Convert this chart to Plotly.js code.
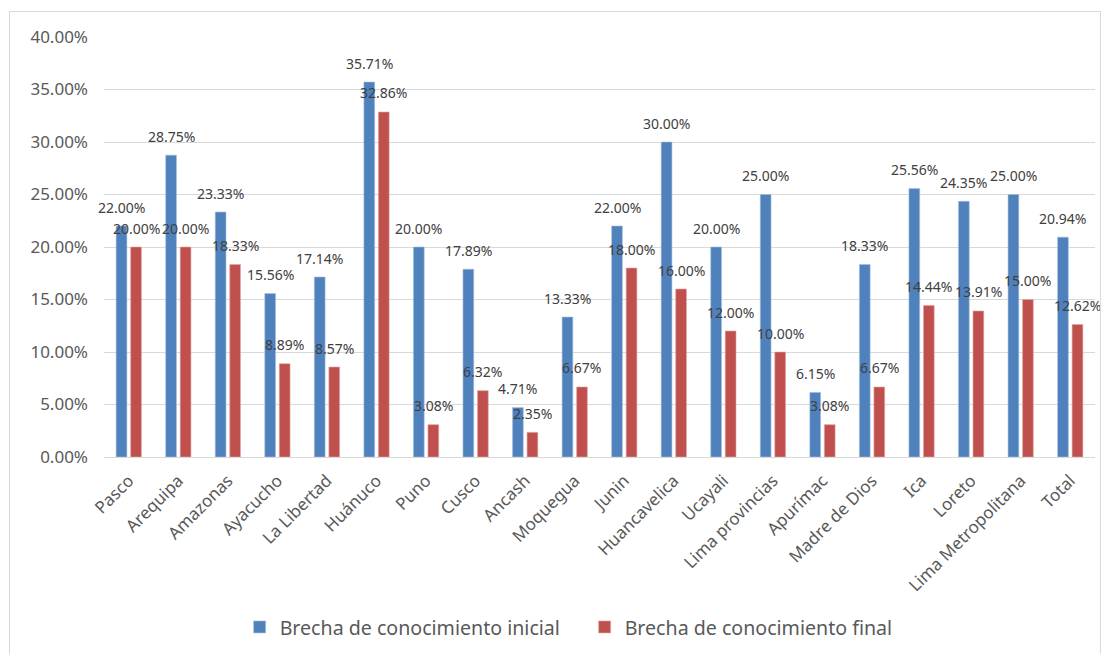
<!DOCTYPE html>
<html>
<head>
<meta charset="utf-8">
<script src="https://cdn.plot.ly/plotly-3.0.1.min.js"></script>
<style>
html,body{margin:0;padding:0;background:#fff;}
#frame{position:absolute;left:9px;top:11px;width:1090px;height:645px;border:1.5px solid #D9D9D9;pointer-events:none;}
#chart{width:1109px;height:654px;}
</style>
</head>
<body>
<div id="chart"></div>
<div id="frame"></div>
<script>
const categories = ["Pasco","Arequipa","Amazonas","Ayacucho","La Libertad","Huánuco","Puno","Cusco","Ancash","Moquegua","Junin","Huancavelica","Ucayali","Lima provincias","Apurímac","Madre de Dios","Ica","Loreto","Lima Metropolitana","Total"];
const inicial = [0.2200,0.2875,0.2333,0.1556,0.1714,0.3571,0.2000,0.1789,0.0471,0.1333,0.2200,0.3000,0.2000,0.2500,0.0615,0.1833,0.2556,0.2435,0.2500,0.2094];
const final_ = [0.2000,0.2000,0.1833,0.0889,0.0857,0.3286,0.0308,0.0632,0.0235,0.0667,0.1800,0.1600,0.1200,0.1000,0.0308,0.0667,0.1444,0.1391,0.1500,0.1262];
const seriesNames = ["Brecha de conocimiento inicial","Brecha de conocimiento final"];

const font = "Noto Sans, Open Sans, sans-serif";
const labelFont = {family: font, size: 14, color: "#404040"};

const traces = [
  {type:"bar", name: seriesNames[0], x: categories, y: inicial, marker:{color:"#4F81BD", line:{color:"#A7BFDE", width:0.6}}, hoverinfo:"x+y"},
  {type:"bar", name: seriesNames[1], x: categories, y: final_, marker:{color:"#C0504D", line:{color:"#E0A8A6", width:0.6}}, hoverinfo:"x+y"}
];

const annotations = [];
[[inicial,-7.25],[final_,7.25]].forEach(([vals,dx]) => {
  vals.forEach((v,i) => {
    annotations.push({x: categories[i], y: v, xref:"x", yref:"y", text:(v*100).toFixed(2)+"%",
      showarrow:false, xanchor:"center", yanchor:"middle", xshift: dx, yshift: 19, font: labelFont});
  });
});

const layout = {
  width: 1109, height: 654,
  margin: {l:104, r:14, t:37, b:197},
  paper_bgcolor:"#fff", plot_bgcolor:"#fff",
  barmode:"group", bargap:0.414, bargroupgap:0.26,
  font:{family: font, color:"#595959"},
  xaxis:{type:"category", range:[-0.5, 19.5], autorange:false, tickangle:-45, tickfont:{family:font, size:17, color:"#595959"}, showline:true, linecolor:"#D9D9D9", linewidth:1, ticks:"", showgrid:false, automargin:false, ticklabelstandoff:6},
  yaxis:{range:[0,0.4], autorange:false, dtick:0.05, tickformat:".2%", tickfont:{family:font, size:17, color:"#595959"}, gridcolor:"#D9D9D9", gridwidth:1, zeroline:false, showline:false, ticks:"", ticklen:0, automargin:false, ticklabelstandoff:15},
  showlegend:true,
  legend:{orientation:"h", x:0.485, xanchor:"center", yref:"container", y:0.041, yanchor:"middle", font:{family:font, size:19.6, color:"#595959"}, itemwidth:30, traceorder:"normal", entrywidth:300, entrywidthmode:"pixels"},
  annotations: annotations
};

Plotly.newPlot("chart", traces, layout, {displayModeBar:false, staticPlot:true});
</script>
</body>
</html>
